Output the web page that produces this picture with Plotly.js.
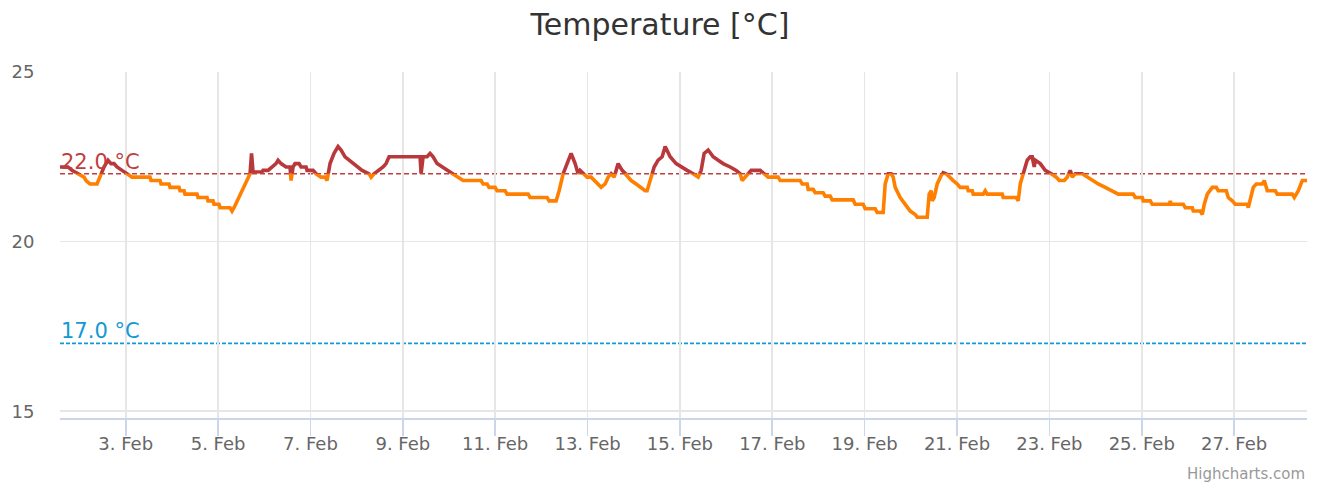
<!DOCTYPE html>
<html><head><meta charset="utf-8">
<script src="https://cdn.plot.ly/plotly-3.0.1.min.js"></script>
<style>html,body{margin:0;padding:0;background:#fff}#chart{width:1320px;height:489px}</style>
</head><body><div id="chart"></div>
<script>
const times = [
'2021-02-01 13:51','2021-02-01 18:00','2021-02-01 20:05','2021-02-01 23:12','2021-02-02 02:19','2021-02-02 03:22','2021-02-02 05:26','2021-02-02 09:05','2021-02-02 11:10','2021-02-02 12:43',
'2021-02-02 14:48','2021-02-02 16:22','2021-02-02 17:55','2021-02-02 19:29','2021-02-02 22:05','2021-02-03 00:40','2021-02-03 03:16','2021-02-03 12:38','2021-02-03 13:09','2021-02-03 17:50',
'2021-02-03 18:21','2021-02-03 22:31','2021-02-03 23:02','2021-02-04 03:42','2021-02-04 04:13','2021-02-04 06:18','2021-02-04 06:49','2021-02-04 13:04','2021-02-04 13:35','2021-02-04 18:16',
'2021-02-04 18:47','2021-02-04 21:23','2021-02-04 21:54','2021-02-05 00:30','2021-02-05 01:01','2021-02-05 06:13','2021-02-05 07:15','2021-02-05 08:17','2021-02-05 09:51','2021-02-05 12:27',
'2021-02-05 15:03','2021-02-05 16:37','2021-02-05 17:23','2021-02-05 18:10','2021-02-05 22:51','2021-02-05 23:22','2021-02-06 01:58','2021-02-06 04:03','2021-02-06 06:07','2021-02-06 07:10',
'2021-02-06 08:43','2021-02-06 11:19','2021-02-06 13:24','2021-02-06 13:55','2021-02-06 14:58','2021-02-06 16:00','2021-02-06 18:05','2021-02-06 19:07','2021-02-06 21:43','2021-02-06 22:14',
'2021-02-07 01:22','2021-02-07 02:55','2021-02-07 05:31','2021-02-07 07:36','2021-02-07 08:38','2021-02-07 10:11','2021-02-07 12:16','2021-02-07 14:21','2021-02-07 15:55','2021-02-07 17:59',
'2021-02-07 20:04','2021-02-07 22:09','2021-02-08 00:14','2021-02-08 02:50','2021-02-08 06:28','2021-02-08 07:31','2021-02-08 09:04','2021-02-08 11:40','2021-02-08 13:44','2021-02-08 15:18',
'2021-02-08 16:52','2021-02-09 08:59','2021-02-09 09:30','2021-02-09 10:32','2021-02-09 12:37','2021-02-09 14:10','2021-02-09 15:44','2021-02-09 17:49','2021-02-09 20:25','2021-02-09 23:01',
'2021-02-10 02:08','2021-02-10 04:13','2021-02-10 07:20','2021-02-10 16:41','2021-02-10 17:43','2021-02-10 19:48','2021-02-10 20:50','2021-02-10 23:58','2021-02-11 01:00','2021-02-11 05:10',
'2021-02-11 06:12','2021-02-11 17:07','2021-02-11 18:09','2021-02-12 02:59','2021-02-12 04:02','2021-02-12 07:40','2021-02-12 09:14','2021-02-12 11:19','2021-02-12 13:23','2021-02-12 15:28',
'2021-02-12 17:33','2021-02-12 19:06','2021-02-12 20:08','2021-02-12 21:42','2021-02-12 23:47','2021-02-13 01:52','2021-02-13 03:25','2021-02-13 04:59','2021-02-13 07:04','2021-02-13 09:08',
'2021-02-13 10:42','2021-02-13 12:16','2021-02-13 13:49','2021-02-13 14:52','2021-02-13 15:54','2021-02-13 17:59','2021-02-13 19:32','2021-02-13 22:40','2021-02-14 01:15','2021-02-14 03:51',
'2021-02-14 05:56','2021-02-14 06:58','2021-02-14 08:32','2021-02-14 10:37','2021-02-14 12:41','2021-02-14 14:46','2021-02-14 16:20','2021-02-14 18:56','2021-02-14 22:02','2021-02-15 00:38',
'2021-02-15 03:46','2021-02-15 06:53','2021-02-15 09:29','2021-02-15 11:02','2021-02-15 12:36','2021-02-15 14:41','2021-02-15 17:17','2021-02-15 19:53','2021-02-15 22:29','2021-02-16 02:07',
'2021-02-16 05:14','2021-02-16 07:19','2021-02-16 08:21','2021-02-16 09:55','2021-02-16 11:28','2021-02-16 13:02','2021-02-16 17:43','2021-02-16 19:47','2021-02-16 21:52','2021-02-17 03:04',
'2021-02-17 04:06','2021-02-17 14:30','2021-02-17 15:32','2021-02-17 18:08','2021-02-17 18:40','2021-02-17 21:16','2021-02-17 22:18','2021-02-18 02:28','2021-02-18 03:30','2021-02-18 06:05',
'2021-02-18 07:08','2021-02-18 18:03','2021-02-18 19:05','2021-02-18 23:15','2021-02-19 00:17','2021-02-19 05:29','2021-02-19 06:31','2021-02-19 09:38','2021-02-19 10:41','2021-02-19 12:14',
'2021-02-19 13:48','2021-02-19 14:50','2021-02-19 15:53','2021-02-19 18:29','2021-02-19 21:05','2021-02-19 23:41','2021-02-20 02:17','2021-02-20 03:19','2021-02-20 08:31','2021-02-20 09:33',
'2021-02-20 10:35','2021-02-20 11:07','2021-02-20 12:09','2021-02-20 13:43','2021-02-20 15:47','2021-02-20 16:50','2021-02-20 18:23','2021-02-20 19:57','2021-02-20 22:02','2021-02-21 00:07',
'2021-02-21 01:40','2021-02-21 05:19','2021-02-21 05:50','2021-02-21 07:55','2021-02-21 08:26','2021-02-21 13:37','2021-02-21 14:40','2021-02-21 15:42','2021-02-21 23:30','2021-02-22 00:01',
'2021-02-22 06:47','2021-02-22 07:49','2021-02-22 08:52','2021-02-22 10:25','2021-02-22 12:29','2021-02-22 14:03','2021-02-22 15:05','2021-02-22 16:08','2021-02-22 16:39','2021-02-22 19:15',
'2021-02-22 21:51','2021-02-23 00:58','2021-02-23 03:34','2021-02-23 05:08','2021-02-23 07:44','2021-02-23 09:17','2021-02-23 10:51','2021-02-23 11:53','2021-02-23 13:27','2021-02-23 17:05',
'2021-02-23 19:41','2021-02-23 22:17','2021-02-24 01:24','2021-02-24 05:02','2021-02-24 08:41','2021-02-24 11:48','2021-02-24 19:35','2021-02-24 20:38','2021-02-25 00:16','2021-02-25 00:47',
'2021-02-25 04:26','2021-02-25 05:28','2021-02-25 14:19','2021-02-25 14:50','2021-02-25 15:21','2021-02-25 21:35','2021-02-25 22:37','2021-02-26 02:16','2021-02-26 02:47','2021-02-26 06:25',
'2021-02-26 07:28','2021-02-26 08:30','2021-02-26 10:04','2021-02-26 12:40','2021-02-26 14:44','2021-02-26 15:47','2021-02-26 19:56','2021-02-26 20:58','2021-02-26 23:03','2021-02-27 00:37',
'2021-02-27 06:51','2021-02-27 07:22','2021-02-27 09:58','2021-02-27 11:32','2021-02-27 14:39','2021-02-27 15:41','2021-02-27 17:15','2021-02-27 21:25','2021-02-27 22:26','2021-02-28 06:14',
'2021-02-28 07:17','2021-02-28 09:22','2021-02-28 11:26','2021-02-28 13:53'
];
const temps = [
22.2,22.2,22.1,22.0,21.9,21.8,21.7,21.7,22.0,22.2,
22.4,22.3,22.3,22.2,22.1,22.0,21.9,21.9,21.8,21.8,
21.7,21.7,21.6,21.6,21.5,21.5,21.4,21.4,21.3,21.3,
21.2,21.2,21.1,21.1,21.0,21.0,20.9,21.0,21.2,21.5,
21.8,22.0,22.6,22.05,22.05,22.1,22.1,22.2,22.3,22.4,
22.3,22.2,22.2,21.8,22.2,22.3,22.3,22.2,22.2,22.1,
22.1,22.0,21.9,21.9,21.8,22.3,22.6,22.8,22.7,22.5,
22.4,22.3,22.2,22.1,22.0,21.9,22.0,22.1,22.2,22.3,
22.5,22.5,22.0,22.5,22.5,22.6,22.5,22.3,22.2,22.1,
22.0,21.9,21.8,21.8,21.7,21.7,21.6,21.6,21.5,21.5,
21.4,21.4,21.3,21.3,21.2,21.2,21.5,22.0,22.3,22.6,
22.3,22.0,22.1,22.0,21.9,21.9,21.8,21.7,21.6,21.7,
21.9,22.0,21.9,22.1,22.3,22.1,22.0,21.8,21.7,21.6,
21.5,21.5,21.8,22.2,22.4,22.5,22.8,22.5,22.3,22.2,
22.1,22.0,21.9,22.1,22.6,22.7,22.5,22.4,22.3,22.2,
22.1,22.0,21.8,21.9,22.0,22.1,22.1,22.0,21.9,21.9,
21.8,21.8,21.7,21.7,21.54,21.54,21.44,21.44,21.34,21.34,
21.23,21.23,21.1,21.1,20.97,20.97,20.86,20.86,21.7,22.0,
22.0,21.9,21.6,21.3,21.1,20.9,20.8,20.72,20.72,21.4,
21.5,21.2,21.3,21.7,21.95,22.03,22.0,21.9,21.8,21.7,
21.6,21.6,21.5,21.5,21.4,21.4,21.5,21.4,21.4,21.3,
21.3,21.2,21.7,22.0,22.4,22.5,22.5,22.2,22.4,22.3,
22.1,22.0,21.9,21.8,21.8,21.9,22.1,21.9,22.0,22.0,
21.9,21.8,21.7,21.6,21.5,21.4,21.4,21.3,21.3,21.2,
21.2,21.1,21.1,21.2,21.1,21.1,21.0,21.0,20.9,20.9,
20.8,21.1,21.4,21.6,21.6,21.5,21.5,21.3,21.2,21.1,
21.1,21.0,21.6,21.7,21.7,21.8,21.5,21.5,21.4,21.4,
21.3,21.5,21.8,21.8
];
const titleText = 'Temperature [°C]';
const threshold = 22;      // zone limit and upper plot line
const lowLine = 17;        // lower plot line
const plotLineLabels = ['22.0 °C', '17.0 °C'];
const yTicks = [15, 20, 25];
const creditText = 'Highcharts.com';

const FONT = 'DejaVu Sans, Verdana, sans-serif';
const yMin = 14.8, yMax = 25;
const split = (threshold - yMin) / (yMax - yMin);
const RED = '#b9383c', ORANGE = '#ff8000', LINE_RED = '#bf3f3f', BLUE = '#1199d4';
const xRange = [times[0], times[times.length - 1]];

const traces = [
  {x: [], y: [], xaxis: 'x', yaxis: 'y', type: 'scatter', mode: 'lines', hoverinfo: 'skip', showlegend: false},
  // zone below the threshold: drawn on an axis whose domain ends at 22 °C, so it is clipped there
  {x: times, y: temps, xaxis: 'x3', yaxis: 'y3', type: 'scatter', mode: 'lines',
   line: {color: ORANGE, width: 3.6}, showlegend: false, name: 'Temperature'},
  // zone above the threshold
  {x: times, y: temps, xaxis: 'x2', yaxis: 'y2', type: 'scatter', mode: 'lines',
   line: {color: RED, width: 3.6}, showlegend: false, name: 'Temperature'}
];

const hiddenY = {showgrid: false, zeroline: false, showticklabels: false, ticks: '', showline: false, fixedrange: true};
const hiddenX = {type: 'date', domain: [0, 1], range: xRange, showgrid: false, zeroline: false, showticklabels: false, ticks: '', showline: false, fixedrange: true};

const layout = {
  width: 1320, height: 489,
  paper_bgcolor: '#ffffff', plot_bgcolor: 'rgba(0,0,0,0)',
  margin: {l: 60, r: 13, t: 72, b: 71, pad: 0},
  showlegend: false,
  font: {family: FONT, color: '#666666'},
  title: {text: titleText, font: {family: FONT, size: 30, color: '#333333'},
          x: 0.5, xref: 'container', xanchor: 'center', y: 1 - 24 / 489, yref: 'container', yanchor: 'middle'},
  xaxis: {type: 'date', anchor: 'y', range: xRange,
          tick0: '2021-02-03', dtick: 2 * 86400000, tickformat: '%-d. %b',
          showgrid: true, gridcolor: '#e6e6e6', gridwidth: 1.65,
          showline: true, linecolor: '#ccd6eb', linewidth: 1.65,
          ticks: 'outside', ticklen: 16, tickwidth: 1.65, tickcolor: '#ccd6eb', ticklabelstandoff: -7,
          tickfont: {family: FONT, size: 18, color: '#666666'}, zeroline: false},
  xaxis2: Object.assign({anchor: 'y2'}, hiddenX),
  xaxis3: Object.assign({anchor: 'y3'}, hiddenX),
  yaxis: {domain: [0, 1], range: [yMin, yMax], tickvals: yTicks, anchor: 'x',
          showgrid: true, gridcolor: '#e6e6e6', gridwidth: 1.65, zeroline: false, showline: false,
          ticks: 'outside', ticklen: 21, tickcolor: 'rgba(0,0,0,0)',
          tickfont: {family: FONT, size: 18, color: '#666666'}},
  yaxis2: Object.assign({domain: [split, 1], range: [threshold, yMax], anchor: 'x2'}, hiddenY),
  yaxis3: Object.assign({domain: [0, split], range: [yMin, threshold], anchor: 'x3'}, hiddenY),
  shapes: [
    {type: 'line', xref: 'paper', x0: 0, x1: 1, yref: 'y', y0: threshold, y1: threshold, layer: 'below',
     line: {color: LINE_RED, width: 1.65, dash: '5px,3px'}},
    {type: 'line', xref: 'paper', x0: 0, x1: 1, yref: 'y', y0: lowLine, y1: lowLine, layer: 'below',
     line: {color: BLUE, width: 1.65, dash: '4px,2px'}}
  ],
  annotations: [
    {text: plotLineLabels[0], xref: 'paper', x: 0, xanchor: 'left', yref: 'y', y: threshold, yanchor: 'bottom',
     xshift: -1, yshift: -2, showarrow: false, font: {family: FONT, size: 21, color: LINE_RED}},
    {text: plotLineLabels[1], xref: 'paper', x: 0, xanchor: 'left', yref: 'y', y: lowLine, yanchor: 'bottom',
     xshift: -1, yshift: -2, showarrow: false, font: {family: FONT, size: 21, color: BLUE}},
    {text: creditText, xref: 'paper', x: 1, xanchor: 'right', xshift: 0, yref: 'paper', y: -(474 - 418) / 346, yanchor: 'middle',
     showarrow: false, font: {family: FONT, size: 15, color: '#999999'}}
  ]
};

Plotly.newPlot('chart', traces, layout, {displayModeBar: false, staticPlot: true});
</script>
</body></html>
